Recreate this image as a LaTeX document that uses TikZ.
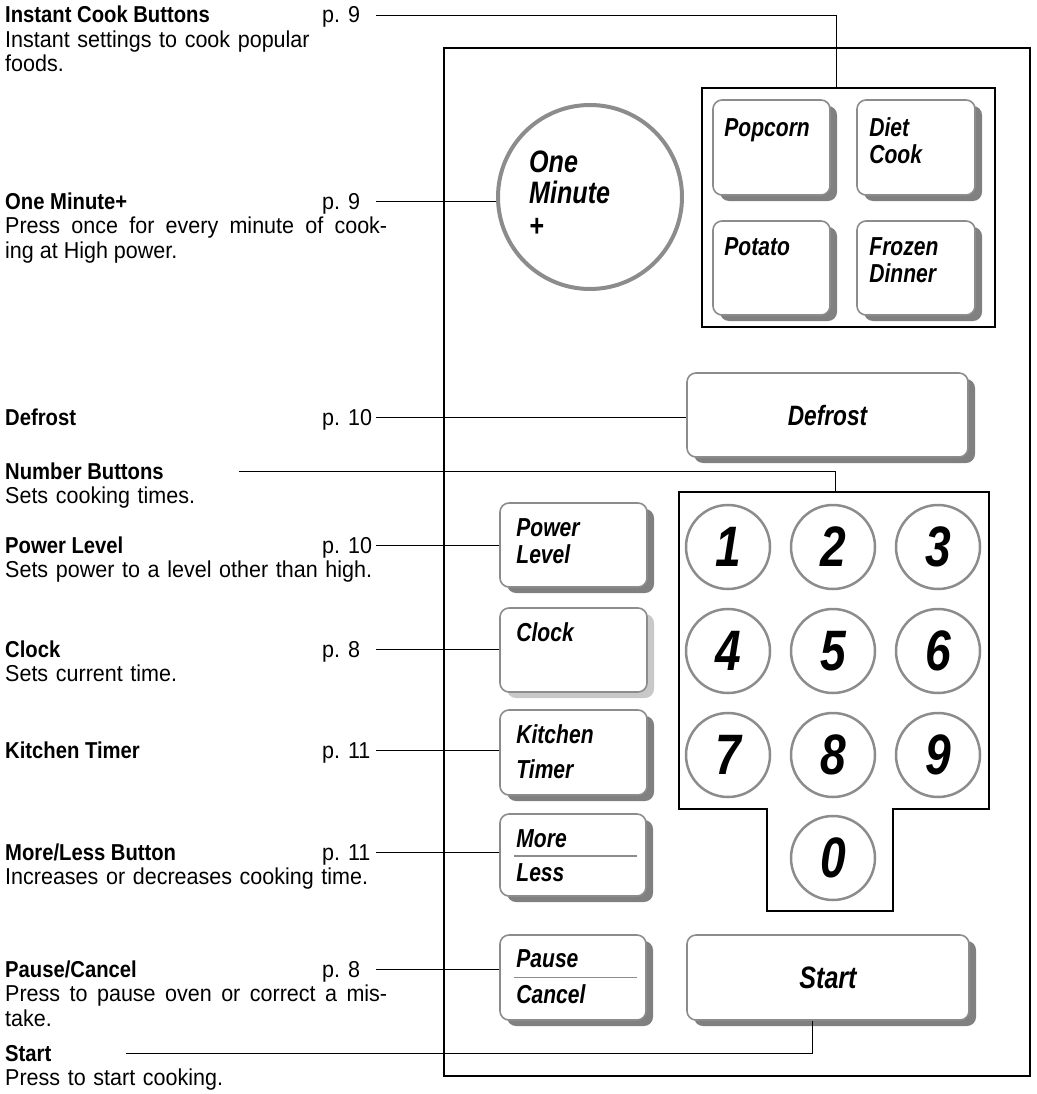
\documentclass[tikz,border=0pt]{standalone}
\usepackage{fontspec}
\setmainfont[FakeStretch=0.935]{Liberation Sans}
\newfontfamily\headfont[FakeStretch=0.88]{Liberation Sans}
\newfontfamily\keyfont[FakeStretch=0.81]{Liberation Sans}
\usetikzlibrary{positioning,shadows}
\definecolor{keyedge}{RGB}{140,140,140}
\definecolor{keyshade}{RGB}{128,128,128}
\definecolor{paleshade}{RGB}{200,200,200}

\begin{document}
\begin{tikzpicture}[x=1pt,y=-1pt,
  every node/.style={inner sep=0pt},
  ttl/.style={anchor=west,text height=16pt,text depth=0pt,font=\headfont\bfseries\fontsize{23}{24.5}\selectfont},
  pg/.style={anchor=west,text height=16pt,text depth=0pt,font=\fontsize{23}{24.5}\selectfont},
  dsc/.style={anchor=base west,text width=382pt,align=left,font=\fontsize{23}{24.5}\selectfont},
  lead/.style={line width=0.9pt},
  key/.style={draw=keyedge,line width=1.6pt,fill=white,rounded corners=9pt,
    drop shadow={shadow xshift=7pt,shadow yshift=-6pt,fill=#1,opacity=1}},
  key/.default=keyshade,
  ktxt/.style={anchor=base west,text width=130pt,align=left,
    font=\keyfont\bfseries\itshape\fontsize{26}{27}\selectfont},
  num/.style={circle,draw=keyedge,line width=2.5pt,minimum size=84pt,
    font=\keyfont\bfseries\itshape\fontsize{57}{57}\selectfont},
  grp/.style={draw,line width=2.2pt}
]
\useasboundingbox (0,0) rectangle (1036,1094);

% control panel
\draw[line width=1.4pt] (444,48) rectangle (1030,1076);

% instant cook keys
\node[grp,minimum width=293pt,minimum height=239pt] (cook) at (848.5,207.5) {};
\node[key,minimum width=117pt,minimum height=95pt] (pop) at (771.5,147.5) {};
\node[key,minimum width=118pt,minimum height=95pt] (diet) at (916,147.5) {};
\node[key,minimum width=117pt,minimum height=94pt] (pot) at (771.5,268) {};
\node[key,minimum width=118pt,minimum height=94pt] (froz) at (916,268) {};
\node[ktxt] (popT) at ([xshift=12pt,yshift=-37pt]pop.north west) {Popcorn};
\node[ktxt] (dietT) at ([xshift=13pt,yshift=-37pt]diet.north west) {Diet\\Cook};
\node[ktxt] (potT) at ([xshift=12pt,yshift=-35pt]pot.north west) {Potato};
\node[ktxt] (frozT) at ([xshift=13pt,yshift=-35pt]froz.north west) {Frozen\\Dinner};

% one minute
\node[circle,draw=keyedge,line width=4pt,minimum size=184pt] (one) at (590,197) {};
\node[ktxt,font=\keyfont\bfseries\itshape\fontsize{31}{32}\selectfont] (oneT)
  at ([xshift=-61pt,yshift=25pt]one.center) {One\\Minute\\+};

% wide keys
\node[key,minimum width=281pt,minimum height=84pt,font=\keyfont\bfseries\itshape\fontsize{28}{30}\selectfont] (dfr) at (827.5,415) {Defrost};
\node[key,minimum width=282pt,minimum height=85pt,font=\keyfont\bfseries\itshape\fontsize{31}{33}\selectfont] (start) at (828,977.5) {Start};

% left column keys
\node[key,minimum width=147pt,minimum height=84pt] (pow) at (573.5,545) {};
\node[key=paleshade,minimum width=147pt,minimum height=84pt] (clk) at (573.5,650) {};
\node[key,minimum width=147pt,minimum height=85pt] (kit) at (573.5,752.5) {};
\node[key,minimum width=146pt,minimum height=82pt] (ml) at (573,855) {};
\node[key,minimum width=146pt,minimum height=85pt] (pse) at (573,977.5) {};
\node[ktxt] (powT) at ([xshift=17pt,yshift=-34pt]pow.north west) {Power\\Level};
\node[ktxt] (clkT) at ([xshift=17pt,yshift=-34pt]clk.north west) {Clock};
\node[ktxt] (kitT) at ([xshift=17pt,yshift=-34pt]kit.north west) {Kitchen\\[8pt]Timer};
\node[ktxt] (mlT) at ([xshift=17pt,yshift=-34pt]ml.north west) {More\\[7pt]Less};
\node[ktxt] (pseT) at ([xshift=17pt,yshift=-33pt]pse.north west) {Pause\\[9pt]Cancel};
\draw[keyedge,line width=1.2pt] ([xshift=15pt,yshift=-1pt]ml.west) -- ([xshift=-10pt,yshift=-1pt]ml.east);
\draw[keyedge,line width=1.2pt] ([xshift=15pt]pse.west) -- ([xshift=-10pt]pse.east);

% number pad
\draw[grp] (679,492) -- (989,492) -- (989,809) -- (893,809) -- (893,911)
  -- (767,911) -- (767,809) -- (679,809) -- cycle;
\coordinate (padN) at (835,492);
\node[num] (k1) at (728,547) {1};
\node[num] (k2) at (833,547) {2};
\node[num] (k3) at (938,547) {3};
\node[num] (k4) at (728,651) {4};
\node[num] (k5) at (833,651) {5};
\node[num] (k6) at (938,651) {6};
\node[num] (k7) at (728,755) {7};
\node[num] (k8) at (833,755) {8};
\node[num] (k9) at (938,755) {9};
\node[num] (k0) at (833,858) {0};

% labels on the left
\node[ttl] (tInst) at (5,15) {Instant Cook Buttons};
\node[pg] (pInst) at (322,15) {p. 9};
\node[dsc] (dInst) at ([yshift=-24.5pt]tInst.base west) {Instant settings to cook popular\\foods.};

\node[ttl] (tOne) at (5,201) {One Minute+};
\node[pg] (pOne) at (322,201) {p. 9};
\node[dsc,align=justify] (dOne) at ([yshift=-24.5pt]tOne.base west) {Press once for every minute of cook-\linebreak ing at High power.};

\node[ttl] (tDfr) at (5,417) {Defrost};
\node[pg] (pDfr) at (322,417) {p. 10};

\node[ttl] (tNum) at (5,471) {Number Buttons};
\node[dsc] (dNum) at ([yshift=-24.5pt]tNum.base west) {Sets cooking times.};

\node[ttl] (tPow) at (5,545) {Power Level};
\node[pg] (pPow) at (322,545) {p. 10};
\node[dsc] (dPow) at ([yshift=-24.5pt]tPow.base west) {Sets power to a level other than high.};

\node[ttl] (tClk) at (5,649) {Clock};
\node[pg] (pClk) at (322,649) {p. 8};
\node[dsc] (dClk) at ([yshift=-24.5pt]tClk.base west) {Sets current time.};

\node[ttl] (tKit) at (5,750) {Kitchen Timer};
\node[pg] (pKit) at (322,750) {p. 11};

\node[ttl] (tMl) at (5,852) {More/Less Button};
\node[pg] (pMl) at (322,852) {p. 11};
\node[dsc] (dMl) at ([yshift=-24.5pt]tMl.base west) {Increases or decreases cooking time.};

\node[ttl] (tPse) at (5,969) {Pause/Cancel};
\node[pg] (pPse) at (322,969) {p. 8};
\node[dsc,align=justify] (dPse) at ([yshift=-24.5pt]tPse.base west) {Press to pause oven or correct a mis-\linebreak take.};

\node[ttl] (tStart) at (5,1053) {Start};
\node[dsc] (dStart) at ([yshift=-24.5pt]tStart.base west) {Press to start cooking.};

% leaders
\draw[lead] ([xshift=54pt]pInst.west) -| ([xshift=-12pt]cook.north);
\draw[lead] ([xshift=54pt]pOne.west) -- (pOne -| one.west);
\draw[lead] ([xshift=54pt]pDfr.west) -- (pDfr -| dfr.west);
\draw[lead] ([xshift=75pt]tNum.east) -| (padN);
\draw[lead] ([xshift=54pt]pPow.west) -- (pPow -| pow.west);
\draw[lead] ([xshift=54pt]pClk.west) -- (pClk -| clk.west);
\draw[lead] ([xshift=54pt]pKit.west) -- (pKit -| kit.west);
\draw[lead] ([xshift=54pt]pMl.west) -- (pMl -| ml.west);
\draw[lead] ([xshift=54pt]pPse.west) -- (pPse -| pse.west);
\draw[lead] ([xshift=74pt]tStart.east) -| ([xshift=-16pt]start.south);
\end{tikzpicture}
\end{document}
